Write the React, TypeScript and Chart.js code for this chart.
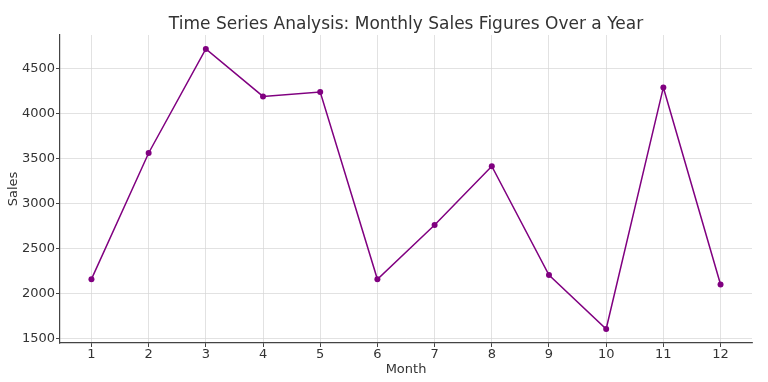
import React, { useEffect, useRef } from "react";
import { Chart, registerables } from "chart.js";

Chart.register(...registerables);

const titleText = "Time Series Analysis: Monthly Sales Figures Over a Year";
const months = [1, 2, 3, 4, 5, 6, 7, 8, 9, 10, 11, 12];
const sales = [2160, 3560, 4715, 4188, 4236, 2158, 2761, 3413, 2206, 1606, 4288, 2100];
const yTicks = [1500, 2000, 2500, 3000, 3500, 4000, 4500];
const xLabel = "Month";
const yLabel = "Sales";

const FONT = "'DejaVu Sans', sans-serif";
const TEXT = "#333333";

const titlePlugin = {
  id: "centeredTitle",
  afterDraw(chart: any) {
    const { ctx, chartArea } = chart;
    ctx.save();
    ctx.font = `17px ${FONT}`;
    ctx.fillStyle = TEXT;
    ctx.textAlign = "center";
    ctx.textBaseline = "alphabetic";
    ctx.fillText(titleText, (chartArea.left + chartArea.right) / 2, 29);
    ctx.restore();
  },
};

const gridOpts = {
  color: "#d6d6d6",
  lineWidth: 0.7,
  borderDash: [2.5, 2.5],
  drawTicks: true,
  tickLength: 4,
  tickColor: "#444444",
  tickWidth: 1,
  tickBorderDash: [],
};

export default function App() {
  const ref = useRef<HTMLCanvasElement | null>(null);

  useEffect(() => {
    document.body.style.margin = "0";
    const canvas = ref.current;
    if (!canvas) return;
    const chart = new Chart(canvas, {
      type: "line",
      data: {
        datasets: [
          {
            data: months.map((m, i) => ({ x: m, y: sales[i] })),
            borderColor: "#800080",
            backgroundColor: "#800080",
            borderWidth: 1.5,
            pointRadius: 3,
            pointHoverRadius: 3,
            pointBorderWidth: 0,
            tension: 0,
          },
        ],
      },
      options: {
        animation: false,
        responsive: true,
        maintainAspectRatio: false,
        layout: { padding: { top: 35, right: 16, left: 0, bottom: 0 } },
        plugins: {
          legend: { display: false },
          title: { display: false },
          tooltip: { enabled: false },
        },
        scales: {
          x: {
            type: "linear",
            min: 0.45,
            max: 12.55,
            afterFit: (s: any) => {
              s.height = 39;
            },
            afterBuildTicks: (s: any) => {
              s.ticks = months.map((v) => ({ value: v }));
            },
            grid: gridOpts,
            border: { display: true, color: "#444444", width: 1.2 },
            ticks: {
              color: TEXT,
              font: { family: FONT, size: 13 },
              padding: 0,
              maxRotation: 0,
              autoSkip: false,
              callback: (v: any) => String(v),
            },
            title: {
              display: true,
              text: xLabel,
              color: TEXT,
              font: { family: FONT, size: 13 },
              padding: { top: 0, bottom: 5 },
            },
          },
          y: {
            type: "linear",
            min: 1451,
            max: 4870,
            afterFit: (s: any) => {
              s.width = 60;
            },
            afterBuildTicks: (s: any) => {
              s.ticks = yTicks.map((v) => ({ value: v }));
            },
            grid: gridOpts,
            border: { display: true, color: "#444444", width: 1.2 },
            ticks: {
              color: TEXT,
              font: { family: FONT, size: 13 },
              padding: 1,
              autoSkip: false,
              callback: (v: any) => String(v),
            },
            title: {
              display: true,
              text: yLabel,
              color: TEXT,
              font: { family: FONT, size: 13 },
              padding: { top: 6, bottom: 0 },
            },
          },
        },
      },
      plugins: [titlePlugin],
    });
    return () => chart.destroy();
  }, []);

  return (
    <div style={{ position: "absolute", left: 0, top: 0, width: 768, height: 382 }}>
      <canvas ref={ref} />
    </div>
  );
}
